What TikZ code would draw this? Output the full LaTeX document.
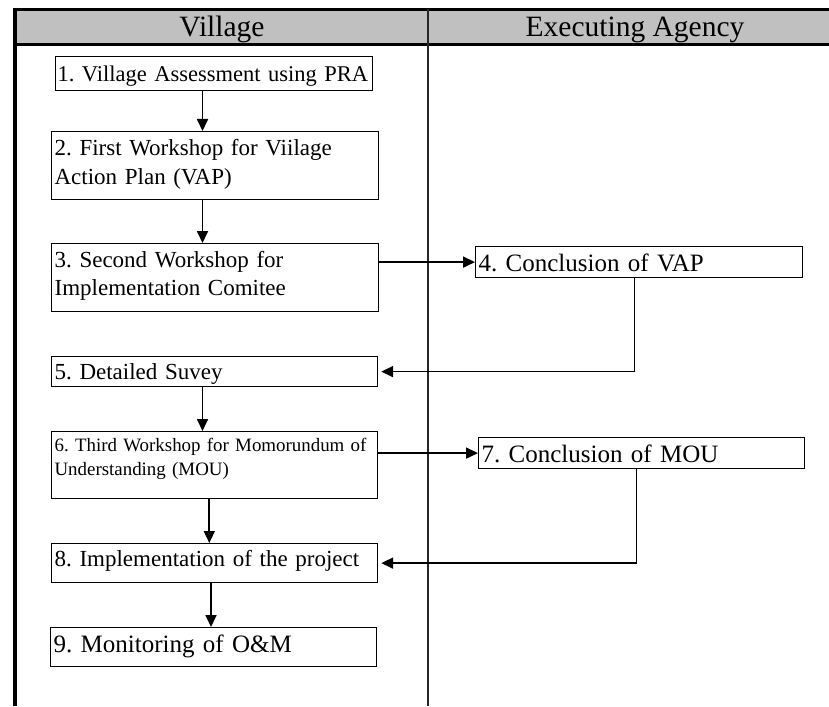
\documentclass[tikz,border=0pt]{standalone}
\usepackage{fontspec}
\setmainfont{Liberation Serif}
\usetikzlibrary{arrows.meta}
\definecolor{headgray}{HTML}{C0C0C0}
\begin{document}
\frenchspacing
\begin{tikzpicture}[x=1pt,y=-1pt,
  stepbox/.style={draw=black, line width=1.2pt, rectangle, inner xsep=3pt,
    inner ysep=0pt, anchor=north west, align=left},
  flow/.style={line width=1.7pt, -{Triangle[length=12pt,width=11pt]}},
  headtext/.style={font=\fontsize{29.5}{34}\selectfont, anchor=base},
  bigtext/.style={font=\fontsize{25}{30}\selectfont},
  midtext/.style={font=\fontsize{23}{28.5}\selectfont},
  smalltext/.style={font=\fontsize{18.9}{24.3}\selectfont},
  rule/.style={line width=3.5pt, black}]
\useasboundingbox (0,0) rectangle (829,706);

% swim-lane table: header band, frame and column divider
\fill[headgray] (15,9.5) rectangle (829,45);
\draw[rule] (13.25,9.5) -- (829,9.5);
\draw[line width=3pt] (15,45) -- (829,45);
\draw[rule] (15,7.75) -- (15,706);
\draw[line width=1.3pt, black!85] (428,9.5) -- (428,706);

\node[headtext] (hv) at (222,36.5) {Village};
\node[headtext] (he) at (635,36.5) {Executing Agency};

% process steps
\node[stepbox, font=\fontsize{22.5}{28.5}\selectfont, inner xsep=2pt,
  text width=313pt, text height=25pt, text depth=9pt]
  (b1) at (55,56) {\mbox{1. Village Assessment using PRA}};
\node[stepbox, midtext, text width=321pt, text height=24pt, text depth=44pt]
  (b2) at (51,131) {\mbox{2. First Workshop for Viilage}\\\mbox{Action Plan (VAP)}};
\node[stepbox, midtext, text width=321pt, text height=23.7pt, text depth=44.3pt]
  (b3) at (51,243) {\mbox{3. Second Workshop for}\\\mbox{Implementation Comitee}};
\node[stepbox, bigtext, text width=321pt, text height=24.7pt, text depth=6.3pt]
  (b4) at (475,246) {\mbox{4. Conclusion of VAP}};
\node[stepbox, midtext, text width=320pt, text height=22.5pt, text depth=7.5pt]
  (b5) at (51,356) {\mbox{5. Detailed Suvey}};
\node[stepbox, smalltext, text width=320pt, text height=19.7pt, text depth=47.3pt]
  (b6) at (51,431) {\mbox{6. Third Workshop for Momorundum of}\\\mbox{Understanding (MOU)}};
\node[stepbox, bigtext, text width=320pt, text height=24.7pt, text depth=6.3pt]
  (b7) at (478,437) {\mbox{7. Conclusion of MOU}};
\node[stepbox, midtext, text width=320pt, text height=23pt, text depth=16pt]
  (b8) at (51,543) {\mbox{8. Implementation of the project}};
\node[stepbox, bigtext, text width=320pt, text height=24.7pt, text depth=14.3pt]
  (b9) at (50,627) {\mbox{9. Monitoring of O\&M}};

% columns for the vertical connectors
\coordinate (xa) at (202.5,0);
\coordinate (xb) at (209.3,0);
\coordinate (xc) at (211,0);

% connectors
\draw[flow] (b1.south -| xa) -- (b2.north -| xa);
\draw[flow] (b2.south -| xa) -- (b3.north -| xa);
\draw[flow] (b3.east |- b4.west) -- (b4.west);
\draw[flow, shorten >=3pt] ([xshift=-4.5pt]b4.south) |- (b5.east);
\draw[flow] (b5.south -| xa) -- (b6.north -| xa);
\draw[flow] (b6.east |- b7.west) -- (b7.west);
\draw[flow, shorten >=3pt] ([xshift=-5pt]b7.south) |- (b8.east);
\draw[flow] (b6.south -| xb) -- (b8.north -| xb);
\draw[flow] (b8.south -| xc) -- (b9.north -| xc);
\end{tikzpicture}
\end{document}
